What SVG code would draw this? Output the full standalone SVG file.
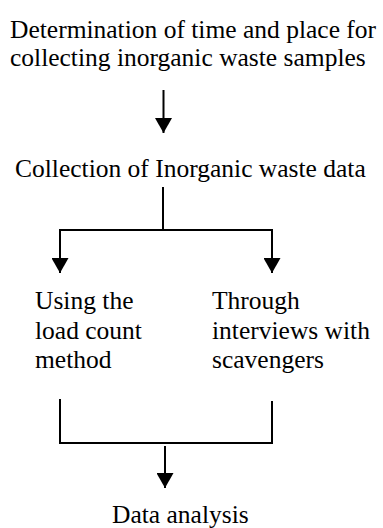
<svg xmlns="http://www.w3.org/2000/svg" width="383" height="528" viewBox="0 0 383 528">
  <style>
    text { font-family: "Liberation Serif", "Times New Roman", serif; font-size: 25.5px; fill: #000; }
    .conn { stroke: #000; stroke-width: 2; fill: none; }
  </style>
  <defs>
    <marker id="arrow" markerUnits="userSpaceOnUse" markerWidth="15" markerHeight="17" viewBox="0 0 15 17" refX="15" refY="8.5" orient="auto">
      <path d="M0,0 L15,8.5 L0,17 z" fill="#000"/>
    </marker>
  </defs>
  <rect width="383" height="528" fill="#fff"/>
  <g id="node-determination">
    <text x="10" y="37.5">Determination of time and place for</text>
    <text x="10" y="66">collecting inorganic waste samples</text>
  </g>
  <g id="node-collection">
    <text x="15" y="177">Collection of Inorganic waste data</text>
  </g>
  <g id="node-loadcount">
    <text x="35" y="309">Using the</text>
    <text x="35" y="338.5">load count</text>
    <text x="35" y="368">method</text>
  </g>
  <g id="node-interviews">
    <text x="212" y="309">Through</text>
    <text x="212" y="338.5">interviews with</text>
    <text x="212" y="368">scavengers</text>
  </g>
  <g id="node-analysis">
    <text x="112" y="523">Data analysis</text>
  </g>
  <g id="connectors">
    <line class="conn" x1="163.5" y1="90" x2="163.5" y2="133" marker-end="url(#arrow)"/>
    <line class="conn" x1="163" y1="187" x2="163" y2="230"/>
    <line class="conn" x1="59" y1="230" x2="273" y2="230"/>
    <line class="conn" x1="60" y1="229" x2="60" y2="273" marker-end="url(#arrow)"/>
    <line class="conn" x1="272" y1="229" x2="272" y2="273" marker-end="url(#arrow)"/>
    <polyline class="conn" points="60,399 60,443 272,443 272,401"/>
    <line class="conn" x1="165" y1="446" x2="165" y2="488" marker-end="url(#arrow)"/>
  </g>
</svg>
